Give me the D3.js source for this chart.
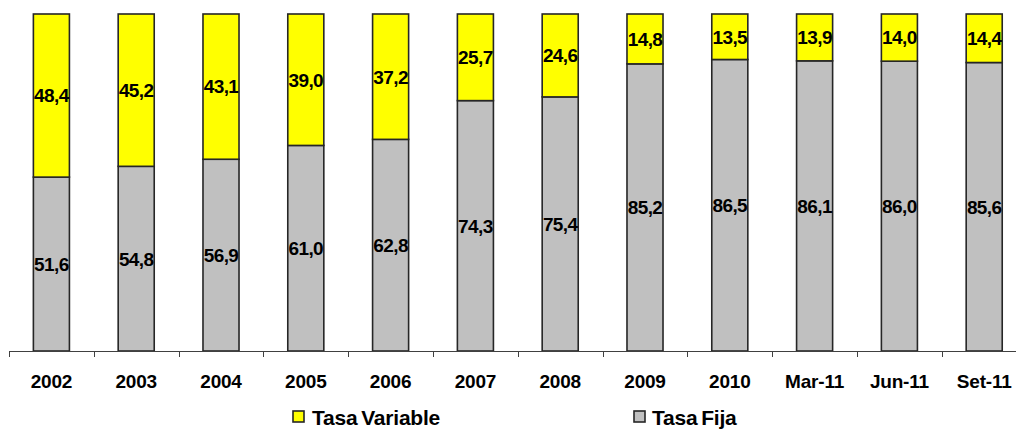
<!DOCTYPE html>
<html>
<head>
<meta charset="utf-8">
<script src="https://cdn.jsdelivr.net/npm/d3@7"></script>
<style>
  html, body { margin: 0; padding: 0; background: #fff; }
  svg { display: block; font-family: "Liberation Sans", Arial, sans-serif; }
</style>
</head>
<body>
<svg id="chart" width="1016" height="430"></svg>
<script>
const categories = ["2002","2003","2004","2005","2006","2007","2008","2009","2010","Mar-11","Jun-11","Set-11"];
const tasaFija = [51.6,54.8,56.9,61.0,62.8,74.3,75.4,85.2,86.5,86.1,86.0,85.6];
const tasaVariable = [48.4,45.2,43.1,39.0,37.2,25.7,24.6,14.8,13.5,13.9,14.0,14.4];
const seriesNames = ["Tasa Variable","Tasa Fija"];

const fmt = v => v.toFixed(1).replace(".", ",");

const svg = d3.select("#chart");
const x0 = 9, step = 84.8;
const x = d3.scaleBand()
  .domain(categories)
  .range([x0, x0 + step * categories.length])
  .paddingInner(0.575)
  .paddingOuter(0.2875);
const y = d3.scaleLinear().domain([0, 100]).range([351, 14]);

const rows = categories.map((c, i) => ({cat: c, fija: tasaFija[i], variable: tasaVariable[i]}));
const stack = d3.stack().keys(["fija", "variable"])(rows);
const colors = {fija: "#c0c0c0", variable: "#ffff00"};

const g = svg.append("g");
stack.forEach(layer => {
  g.selectAll(null).data(layer).enter().append("rect")
    .attr("x", d => x(d.data.cat))
    .attr("y", d => y(d[1]))
    .attr("width", x.bandwidth())
    .attr("height", d => y(d[0]) - y(d[1]))
    .attr("fill", colors[layer.key])
    .attr("stroke", "#262626")
    .attr("stroke-width", 1.6);
});
stack.forEach(layer => {
  g.selectAll(null).data(layer).enter().append("text")
    .attr("x", d => x(d.data.cat) + x.bandwidth() / 2)
    .attr("y", d => (y(d[0]) + y(d[1])) / 2)
    .attr("dy", "0.36em")
    .attr("text-anchor", "middle")
    .attr("font-size", 19)
    .attr("font-weight", "bold")
    .attr("letter-spacing", "-0.6px")
    .attr("fill", "#000")
    .text(d => fmt(d.data[layer.key]));
});

// axis
const axisG = svg.append("g");
axisG.append("line")
  .attr("x1", x0).attr("x2", 1016).attr("y1", 351.5).attr("y2", 351.5)
  .attr("stroke", "#404040").attr("stroke-width", 1);
const tickPositions = d3.range(categories.length + 1).map(i => x0 + step * i);
axisG.selectAll(null).data(tickPositions).enter().append("line")
  .attr("x1", d => Math.round(d) + 0.5).attr("x2", d => Math.round(d) + 0.5)
  .attr("y1", 351.5).attr("y2", 357)
  .attr("stroke", "#404040").attr("stroke-width", 1);
axisG.selectAll(null).data(categories).enter().append("text")
  .attr("x", d => x(d) + x.bandwidth() / 2)
  .attr("y", 388)
  .attr("text-anchor", "middle")
  .attr("font-size", 19)
  .attr("font-weight", "bold")
  .attr("letter-spacing", "-0.2px")
  .attr("fill", "#000")
  .text(d => d);

// legend
const legendItems = [
  {name: seriesNames[0], color: colors.variable, sx: 293, tx: 312},
  {name: seriesNames[1], color: colors.fija, sx: 634, tx: 652}
];
const lg = svg.append("g");
legendItems.forEach(it => {
  lg.append("rect")
    .attr("x", it.sx).attr("y", 411).attr("width", 11).attr("height", 11)
    .attr("fill", it.color).attr("stroke", "#262626").attr("stroke-width", 1.6);
  lg.append("text")
    .attr("x", it.tx).attr("y", 425)
    .attr("font-size", 21)
    .attr("font-weight", "bold")
    .attr("letter-spacing", "-0.2px")
    .attr("word-spacing", "-2px")
    .attr("fill", "#000")
    .text(it.name);
});
</script>
</body>
</html>
